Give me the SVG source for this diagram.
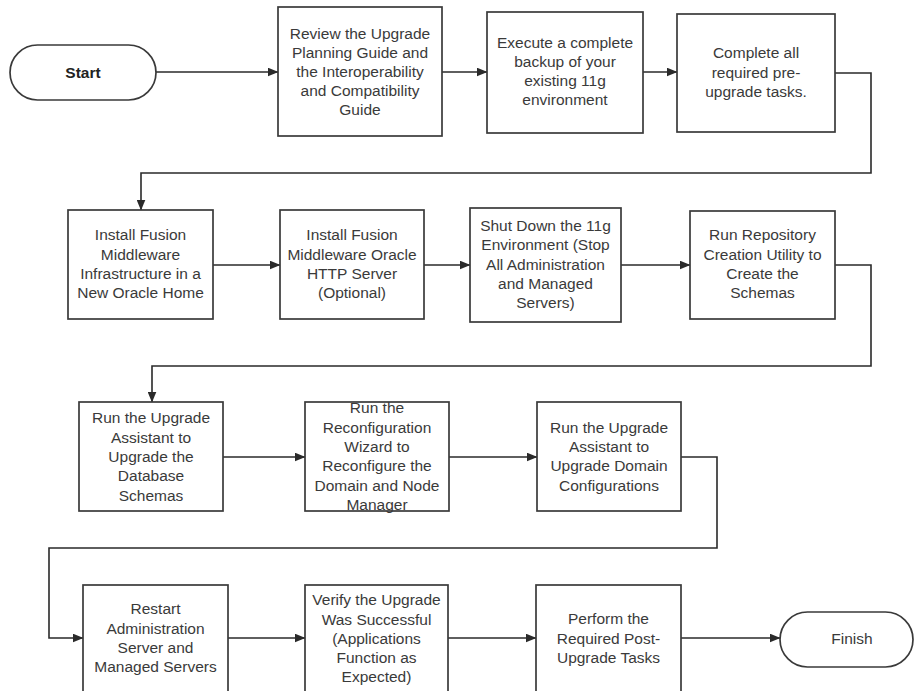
<svg xmlns="http://www.w3.org/2000/svg" width="915" height="691" viewBox="0 0 915 691">
<defs>
<marker id="ah" markerWidth="11" markerHeight="9" refX="10.5" refY="4.5" orient="auto" markerUnits="userSpaceOnUse">
<path d="M0,0 L11,4.5 L0,9 z" fill="#2a2a2a"/>
</marker>
</defs>
<style>
.box{fill:#fff;stroke:#3a3a3a;stroke-width:1.7}
.t{font-family:"Liberation Sans",Arial,sans-serif;font-size:15.5px;fill:#3a3a3a;text-anchor:middle}
.b{font-weight:bold;fill:#222}
.c{fill:none;stroke:#2a2a2a;stroke-width:1.6;marker-end:url(#ah)}
</style>
<rect width="915" height="691" fill="#fff"/>
<g id="connectors">
<path class="c" d="M156,72 H278"/>
<path class="c" d="M442,72 H487"/>
<path class="c" d="M643,72 H677"/>
<path class="c" d="M835,73 H871 V173 H141 V210"/>
<path class="c" d="M213,265 H280"/>
<path class="c" d="M424,265 H470"/>
<path class="c" d="M621,265 H690"/>
<path class="c" d="M835,265 H871 V366 H152 V402"/>
<path class="c" d="M223,457 H305"/>
<path class="c" d="M449,457 H537"/>
<path class="c" d="M681,457 H717 V548 H49 V638 H83"/>
<path class="c" d="M228,638 H305"/>
<path class="c" d="M448,638 H536"/>
<path class="c" d="M681,638 H780"/>
</g>
<g id="start">
<rect class="box" x="10" y="45" width="146" height="55" rx="27.5"/>
<text class="t b" x="83" y="77.5">Start</text>
</g>
<g id="n1">
<rect class="box" x="278" y="7" width="164" height="129"/>
<text class="t" x="360"><tspan x="360" y="38.5">Review the Upgrade</tspan><tspan x="360" y="57.7">Planning Guide and</tspan><tspan x="360" y="77">the Interoperability</tspan><tspan x="360" y="96">and Compatibility</tspan><tspan x="360" y="115">Guide</tspan></text>
</g>
<g id="n2">
<rect class="box" x="487" y="12" width="156" height="121"/>
<text class="t" x="565"><tspan x="565" y="47.5">Execute a complete</tspan><tspan x="565" y="67">backup of your</tspan><tspan x="565" y="86">existing 11g</tspan><tspan x="565" y="105">environment</tspan></text>
</g>
<g id="n3">
<rect class="box" x="677" y="14" width="158" height="118"/>
<text class="t" x="756"><tspan x="756" y="58">Complete all</tspan><tspan x="756" y="77.5">required pre-</tspan><tspan x="756" y="96.5">upgrade tasks.</tspan></text>
</g>
<g id="n4">
<rect class="box" x="68" y="210" width="145" height="109"/>
<text class="t" x="140.5"><tspan x="140.5" y="240">Install Fusion</tspan><tspan x="140.5" y="259.5">Middleware</tspan><tspan x="140.5" y="279">Infrastructure in a</tspan><tspan x="140.5" y="298">New Oracle Home</tspan></text>
</g>
<g id="n5">
<rect class="box" x="280" y="210" width="144" height="109"/>
<text class="t" x="352"><tspan x="352" y="240">Install Fusion</tspan><tspan x="352" y="259.5">Middleware Oracle</tspan><tspan x="352" y="279">HTTP Server</tspan><tspan x="352" y="298">(Optional)</tspan></text>
</g>
<g id="n6">
<rect class="box" x="470" y="208" width="151" height="114"/>
<text class="t" x="545.5"><tspan x="545.5" y="230.5">Shut Down the 11g</tspan><tspan x="545.5" y="250">Environment (Stop</tspan><tspan x="545.5" y="269.5">All Administration</tspan><tspan x="545.5" y="288.5">and Managed</tspan><tspan x="545.5" y="308">Servers)</tspan></text>
</g>
<g id="n7">
<rect class="box" x="690" y="211" width="145" height="108"/>
<text class="t" x="762.5"><tspan x="762.5" y="240">Run Repository</tspan><tspan x="762.5" y="259.5">Creation Utility to</tspan><tspan x="762.5" y="279">Create the</tspan><tspan x="762.5" y="298">Schemas</tspan></text>
</g>
<g id="n8">
<rect class="box" x="79" y="402" width="144" height="109"/>
<text class="t" x="151"><tspan x="151" y="423">Run the Upgrade</tspan><tspan x="151" y="442.5">Assistant to</tspan><tspan x="151" y="462">Upgrade the</tspan><tspan x="151" y="481">Database</tspan><tspan x="151" y="500.5">Schemas</tspan></text>
</g>
<g id="n9">
<rect class="box" x="305" y="402" width="144" height="109"/>
<text class="t" x="377"><tspan x="377" y="413">Run the</tspan><tspan x="377" y="432.5">Reconfiguration</tspan><tspan x="377" y="452">Wizard to</tspan><tspan x="377" y="471">Reconfigure the</tspan><tspan x="377" y="490.5">Domain and Node</tspan><tspan x="377" y="509.5">Manager</tspan></text>
</g>
<g id="n10">
<rect class="box" x="537" y="402" width="144" height="109"/>
<text class="t" x="609"><tspan x="609" y="432.5">Run the Upgrade</tspan><tspan x="609" y="452">Assistant to</tspan><tspan x="609" y="471">Upgrade Domain</tspan><tspan x="609" y="490.5">Configurations</tspan></text>
</g>
<g id="n11">
<rect class="box" x="83" y="585" width="145" height="120"/>
<text class="t" x="155.5"><tspan x="155.5" y="614">Restart</tspan><tspan x="155.5" y="633.5">Administration</tspan><tspan x="155.5" y="653">Server and</tspan><tspan x="155.5" y="672">Managed Servers</tspan></text>
</g>
<g id="n12">
<rect class="box" x="305" y="585" width="143" height="120"/>
<text class="t" x="376.5"><tspan x="376.5" y="605">Verify the Upgrade</tspan><tspan x="376.5" y="624.5">Was Successful</tspan><tspan x="376.5" y="643.5">(Applications</tspan><tspan x="376.5" y="662.5">Function as</tspan><tspan x="376.5" y="682">Expected)</tspan></text>
</g>
<g id="n13">
<rect class="box" x="536" y="585" width="145" height="120"/>
<text class="t" x="608.5"><tspan x="608.5" y="624">Perform the</tspan><tspan x="608.5" y="643.5">Required Post-</tspan><tspan x="608.5" y="662.5">Upgrade Tasks</tspan></text>
</g>
<g id="finish">
<rect class="box" x="780" y="612" width="133" height="55" rx="27.5"/>
<text class="t" x="852" y="643.5">Finish</text>
</g>
</svg>
